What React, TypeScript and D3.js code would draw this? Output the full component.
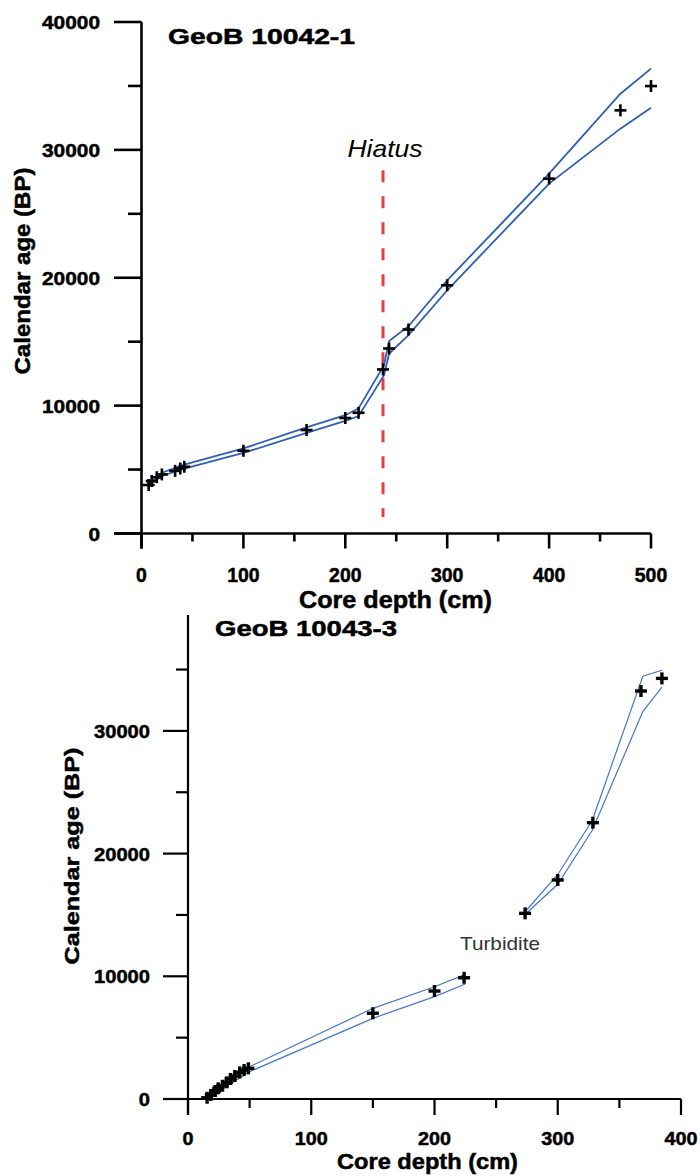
import React from "react";
import * as d3 from "d3";

// ---------- Top panel: GeoB 10042-1 ----------
const topDepth = [7, 10, 15, 20, 33, 38, 42, 100, 162, 200, 213, 237, 243, 262, 300, 400, 470, 500];
const topAge = [3790, 4100, 4400, 4620, 4900, 5080, 5220, 6470, 8090, 9030, 9440, 12830, 14470, 15950, 19410, 27750, 33090, 34990];
const topEnvDepth = [7, 20, 42, 100, 162, 200, 213, 238, 243, 262, 300, 400, 470, 500];
const topUpper = [3850, 4750, 5380, 6650, 8300, 9250, 9780, 13160, 15060, 16210, 19800, 28140, 34390, 36350];
const topLower = [3750, 4500, 5080, 6300, 7870, 8800, 9180, 12380, 14070, 15510, 19020, 27360, 31660, 33300];
const topXTicks = [0, 100, 200, 300, 400, 500];
const topXMinor = [50, 150, 250, 350, 450];
const topYTicks = [0, 10000, 20000, 30000, 40000];
const topYMinor = [5000, 15000, 25000, 35000];
const hiatusDepth = 237;
const hiatusRange = [1300, 28400];

// ---------- Bottom panel: GeoB 10043-3 ----------
const botDepth = [15.5, 18.5, 22, 24.5, 28, 31.5, 34.5, 38, 42, 45.5, 49, 150, 200, 224, 273.5, 300, 328.5, 367.5, 384.5];
const botAge = [100, 330, 650, 870, 1080, 1360, 1630, 1870, 2170, 2360, 2500, 6990, 8800, 9880, 15130, 17850, 22520, 33250, 34280];
const botEnv1Depth = [15, 50, 150, 200, 225];
const botEnv1Upper = [200, 2630, 7390, 9150, 10160];
const botEnv1Lower = [0, 2230, 6575, 8340, 9370];
const botEnv2Depth = [273, 300, 328, 369, 384.5];
const botEnv2Upper = [15200, 18300, 22700, 34450, 34940];
const botEnv2Lower = [15000, 17500, 21900, 31570, 33560];
const botXTicks = [0, 100, 200, 300, 400];
const botXMinor = [50, 150, 250, 350];
const botYTicks = [0, 10000, 20000, 30000];
const botYMinor = [5000, 15000, 25000, 35000];

const FONT = "'Liberation Sans', Arial, Helvetica, sans-serif";

function Cross({ x, y, s, w }: { x: number; y: number; s: number; w: number }) {
  return (
    <g stroke="#000" strokeWidth={w}>
      <line x1={x - s} x2={x + s} y1={y} y2={y} />
      <line x1={x} x2={x} y1={y - s} y2={y + s} />
    </g>
  );
}

const boldStroke = { stroke: "#000", strokeWidth: 0.5 };

export default function App() {
  const xT = d3.scaleLinear().domain([0, 500]).range([141.5, 651]);
  const yT = d3.scaleLinear().domain([0, 40000]).range([533.5, 22]);
  const xB = d3.scaleLinear().domain([0, 400]).range([188, 681]);
  const yB = d3.scaleLinear().domain([0, 40000]).range([1099, 608.2]);

  const lineT = d3.line<[number, number]>().x((d) => xT(d[0])).y((d) => yT(d[1]));
  const lineB = d3.line<[number, number]>().x((d) => xB(d[0])).y((d) => yB(d[1]));
  const zip = (a: number[], b: number[]) => a.map((v, i) => [v, b[i]] as [number, number]);

  const topBlue = "#2f5fb3";
  const botBlue = "#4677c8";

  return (
    <svg
      width={700}
      height={1176}
      style={{ position: "absolute", left: 0, top: 0, background: "#fff" }}
      fontFamily={FONT}
    >
      <rect width={700} height={1176} fill="#fff" />

      {/* ================= TOP PANEL ================= */}
      <g>
        <line x1={xT(0)} x2={xT(0)} y1={yT(40000)} y2={yT(0) + 15} stroke="#000" strokeWidth={2.6} />
        <line x1={114} x2={xT(500)} y1={yT(0)} y2={yT(0)} stroke="#000" strokeWidth={2.6} />
        {topYTicks.map((t) => (
          <g key={"tyt" + t}>
            <line x1={114} x2={xT(0)} y1={yT(t)} y2={yT(t)} stroke="#000" strokeWidth={2.6} />
            <text
              x={100}
              y={yT(t) + 7}
              textAnchor="end"
              fontSize={19}
              fontWeight="bold"
              {...boldStroke}
              textLength={String(t).length * 11.6}
              lengthAdjust="spacingAndGlyphs"
            >
              {t}
            </text>
          </g>
        ))}
        {topYMinor.map((t) => (
          <line key={"tym" + t} x1={128} x2={xT(0)} y1={yT(t)} y2={yT(t)} stroke="#000" strokeWidth={2.6} />
        ))}
        {topXTicks.map((t) => (
          <g key={"txt" + t}>
            <line x1={xT(t)} x2={xT(t)} y1={yT(0)} y2={yT(0) + 15} stroke="#000" strokeWidth={2.6} />
            <text
              x={xT(t)}
              y={582}
              textAnchor="middle"
              fontSize={20}
              fontWeight="bold"
              {...boldStroke}
              textLength={String(t).length * 10.8}
              lengthAdjust="spacingAndGlyphs"
            >
              {t}
            </text>
          </g>
        ))}
        {topXMinor.map((t) => (
          <line key={"txm" + t} x1={xT(t)} x2={xT(t)} y1={yT(0)} y2={yT(0) + 8} stroke="#000" strokeWidth={2.6} />
        ))}

        <text x={168} y={44} fontSize={22} fontWeight="bold" {...boldStroke} textLength={187} lengthAdjust="spacingAndGlyphs">
          GeoB 10042-1
        </text>
        <text x={299} y={608} fontSize={23} fontWeight="bold" {...boldStroke} textLength={193} lengthAdjust="spacingAndGlyphs">
          Core depth (cm)
        </text>
        <text
          transform="translate(30,271) rotate(-90)"
          textAnchor="middle"
          fontSize={22}
          fontWeight="bold"
          {...boldStroke}
          textLength={207}
          lengthAdjust="spacingAndGlyphs"
        >
          Calendar age (BP)
        </text>

        <line
          x1={xT(hiatusDepth)}
          x2={xT(hiatusDepth)}
          y1={yT(hiatusRange[1])}
          y2={yT(hiatusRange[0])}
          stroke="#ee3b3b"
          strokeWidth={3}
          strokeDasharray="12,14"
        />
        <text
          x={xT(hiatusDepth) + 2}
          y={157}
          textAnchor="middle"
          fontSize={24}
          fontStyle="italic"
          textLength={75}
          lengthAdjust="spacingAndGlyphs"
        >
          Hiatus
        </text>

        <path d={lineT(zip(topEnvDepth, topUpper)) || ""} fill="none" stroke={topBlue} strokeWidth={1.8} />
        <path d={lineT(zip(topEnvDepth, topLower)) || ""} fill="none" stroke={topBlue} strokeWidth={1.8} />

        {topDepth.map((d, i) => (
          <Cross key={"tp" + i} x={xT(d)} y={yT(topAge[i])} s={6} w={2.6} />
        ))}
      </g>

      {/* ================= BOTTOM PANEL ================= */}
      <g>
        <line x1={xB(0)} x2={xB(0)} y1={615} y2={yB(0) + 16} stroke="#000" strokeWidth={2.2} />
        <line x1={163} x2={xB(400)} y1={yB(0)} y2={yB(0)} stroke="#000" strokeWidth={2.2} />
        {botYTicks.map((t) => (
          <g key={"byt" + t}>
            <line x1={163} x2={xB(0)} y1={yB(t)} y2={yB(t)} stroke="#000" strokeWidth={2.2} />
            <text
              x={150}
              y={yB(t) + 7}
              textAnchor="end"
              fontSize={19}
              fontWeight="bold"
              {...boldStroke}
              textLength={String(t).length * 11.2}
              lengthAdjust="spacingAndGlyphs"
            >
              {t}
            </text>
          </g>
        ))}
        {botYMinor.map((t) => (
          <line key={"bym" + t} x1={176} x2={xB(0)} y1={yB(t)} y2={yB(t)} stroke="#000" strokeWidth={2.2} />
        ))}
        {botXTicks.map((t) => (
          <g key={"bxt" + t}>
            <line x1={xB(t)} x2={xB(t)} y1={yB(0)} y2={yB(0) + 16} stroke="#000" strokeWidth={2.2} />
            <text
              x={xB(t)}
              y={1145}
              textAnchor="middle"
              fontSize={19}
              fontWeight="bold"
              {...boldStroke}
              textLength={String(t).length * 11}
              lengthAdjust="spacingAndGlyphs"
            >
              {t}
            </text>
          </g>
        ))}
        {botXMinor.map((t) => (
          <line key={"bxm" + t} x1={xB(t)} x2={xB(t)} y1={yB(0)} y2={yB(0) + 9} stroke="#000" strokeWidth={2.2} />
        ))}

        <text x={215} y={636} fontSize={22} fontWeight="bold" {...boldStroke} textLength={182} lengthAdjust="spacingAndGlyphs">
          GeoB 10043-3
        </text>
        <text x={337} y={1169} fontSize={22} fontWeight="bold" {...boldStroke} textLength={181} lengthAdjust="spacingAndGlyphs">
          Core depth (cm)
        </text>
        <text
          transform="translate(79,856) rotate(-90)"
          textAnchor="middle"
          fontSize={21}
          fontWeight="bold"
          {...boldStroke}
          textLength={217}
          lengthAdjust="spacingAndGlyphs"
        >
          Calendar age (BP)
        </text>
        <text x={460} y={950} fontSize={19} fill="#333" textLength={80} lengthAdjust="spacingAndGlyphs">
          Turbidite
        </text>

        <path d={lineB(zip(botEnv1Depth, botEnv1Upper)) || ""} fill="none" stroke={botBlue} strokeWidth={1.2} />
        <path d={lineB(zip(botEnv1Depth, botEnv1Lower)) || ""} fill="none" stroke={botBlue} strokeWidth={1.2} />
        <path d={lineB(zip(botEnv2Depth, botEnv2Upper)) || ""} fill="none" stroke={botBlue} strokeWidth={1.2} />
        <path d={lineB(zip(botEnv2Depth, botEnv2Lower)) || ""} fill="none" stroke={botBlue} strokeWidth={1.2} />

        {botDepth.map((d, i) => (
          <Cross key={"bp" + i} x={xB(d)} y={yB(botAge[i])} s={6} w={3.4} />
        ))}
      </g>
    </svg>
  );
}
